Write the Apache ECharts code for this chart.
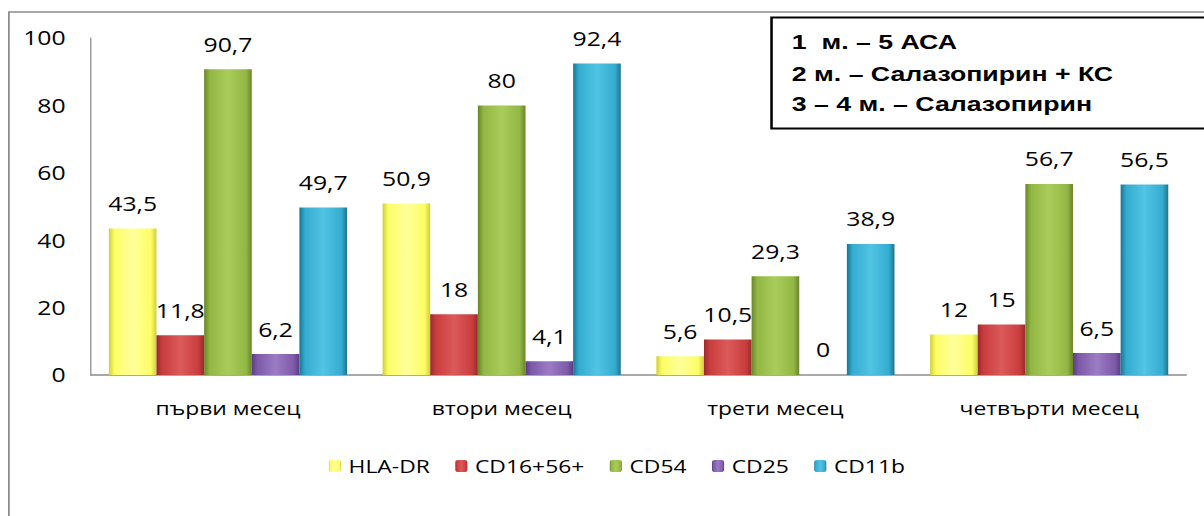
<!DOCTYPE html>
<html>
<head>
<meta charset="utf-8">
<title>Маркери по месеци</title>
<script src="https://cdn.jsdelivr.net/npm/echarts/dist/echarts.min.js"></script>
<style>
  html, body { margin: 0; padding: 0; background: #fff; overflow: hidden; }
  #wrap { width: 1204px; height: 516px; overflow: hidden; }
  /* the chart is laid out narrower and widened, as in the original slide */
  #chart { width: 948px; height: 516px; transform: scaleX(1.27); transform-origin: 0 0; }
</style>
</head>
<body>
<div id="wrap"><div id="chart"></div></div>
<script>
// months on the category axis
const categories = ['първи месец', 'втори месец', 'трети месец', 'четвърти месец'];

// marker names, in legend order
const seriesNames = ['HLA-DR', 'CD16+56+', 'CD54', 'CD25', 'CD11b'];

// values per marker, one per month
const hlaDR   = [43.5, 50.9, 5.6, 12];
const cd1656  = [11.8, 18, 10.5, 15];
const cd54    = [90.7, 80, 29.3, 56.7];
const cd25    = [6.2, 4.1, 0, 6.5];
const cd11b   = [49.7, 92.4, 38.9, 56.5];

// value axis ticks
const yTicks = [0, 20, 40, 60, 80, 100];

// legend box text
const noteLines = ['1  м. – 5 АСА', '2 м. – Салазопирин + КС', '3 – 4 м. – Салазопирин'];

const seriesData = [hlaDR, cd1656, cd54, cd25, cd11b];

// edge / face colours for a bevelled look
const palette = [
  { edge: '#cfcf3a', face: '#fdfd66', light: '#ffff9a' },
  { edge: '#982a2c', face: '#c93d3e', light: '#dc5a5a' },
  { edge: '#6a8529', face: '#93b745', light: '#a9cc5a' },
  { edge: '#5a3d84', face: '#7e5aa8', light: '#9a7cc4' },
  { edge: '#1c7590', face: '#34acd0', light: '#52c4e4' }
];

function bevel(c) {
  return new echarts.graphic.LinearGradient(0, 0, 1, 0, [
    { offset: 0, color: c.edge },
    { offset: 0.12, color: c.face },
    { offset: 0.5, color: c.light },
    { offset: 0.88, color: c.face },
    { offset: 1, color: c.edge }
  ]);
}

const FONT = 'Open Sans';
const FS = 19.5;
const fmt = v => String(v).replace('.', ',');

const chart = echarts.init(document.getElementById('chart'), null, { renderer: 'svg' });

const series = seriesNames.map((name, i) => ({
  name: name,
  type: 'bar',
  data: seriesData[i],
  barGap: '0%',
  barCategoryGap: '13%',
  itemStyle: { color: bevel(palette[i]) },
  label: {
    show: true,
    position: 'top',
    distance: 15,
    color: '#000',
    fontFamily: FONT,
    fontSize: FS,
    formatter: p => fmt(p.value)
  },
  emphasis: { disabled: true },
  animation: false
}));

chart.setOption({
  animation: false,
  backgroundColor: '#fff',
  grid: { left: 71.7, right: 14.1, top: 38, bottom: 141, containLabel: false },
  xAxis: {
    type: 'category',
    data: categories,
    axisLine: { show: true, lineStyle: { color: '#8c8c8c', width: 1.6 } },
    axisTick: { show: false },
    axisLabel: { color: '#000', fontFamily: FONT, fontSize: 18, margin: 24 }
  },
  yAxis: {
    type: 'value',
    min: yTicks[0],
    max: yTicks[yTicks.length - 1],
    interval: yTicks[1] - yTicks[0],
    axisLine: { show: true, lineStyle: { color: '#8c8c8c', width: 1 } },
    axisTick: { show: false },
    splitLine: { show: false },
    axisLabel: { color: '#000', fontFamily: FONT, fontSize: FS, margin: 20 }
  },
  legend: {
    data: seriesNames,
    left: 254,
    top: 452,
    itemWidth: 9.5,
    itemHeight: 12,
    itemGap: 20,
    textStyle: { color: '#000', fontFamily: FONT, fontSize: 18, padding: [0, 0, 0, 1] },
    selectedMode: false
  },
  graphic: [
    {
      type: 'rect',
      silent: true,
      shape: { x: 7, y: 12, width: 1200, height: 800 },
      style: { fill: 'none', stroke: '#8c8c8c', lineWidth: 1.4 }
    },
    {
      type: 'rect',
      silent: true,
      shape: { x: 607.5, y: 17.5, width: 600, height: 111 },
      style: { fill: '#fff', stroke: '#000', lineWidth: 2 }
    },
    ...noteLines.map((t, i) => ({
      type: 'text',
      silent: true,
      x: 623.5,
      y: [41.5, 73.5, 104][i],
      style: {
        text: t,
        fill: '#000',
        font: 'bold 21px "Liberation Sans", Arial, sans-serif',
        verticalAlign: 'middle',
        align: 'left'
      }
    }))
  ],
  series: series
});
</script>
</body>
</html>
